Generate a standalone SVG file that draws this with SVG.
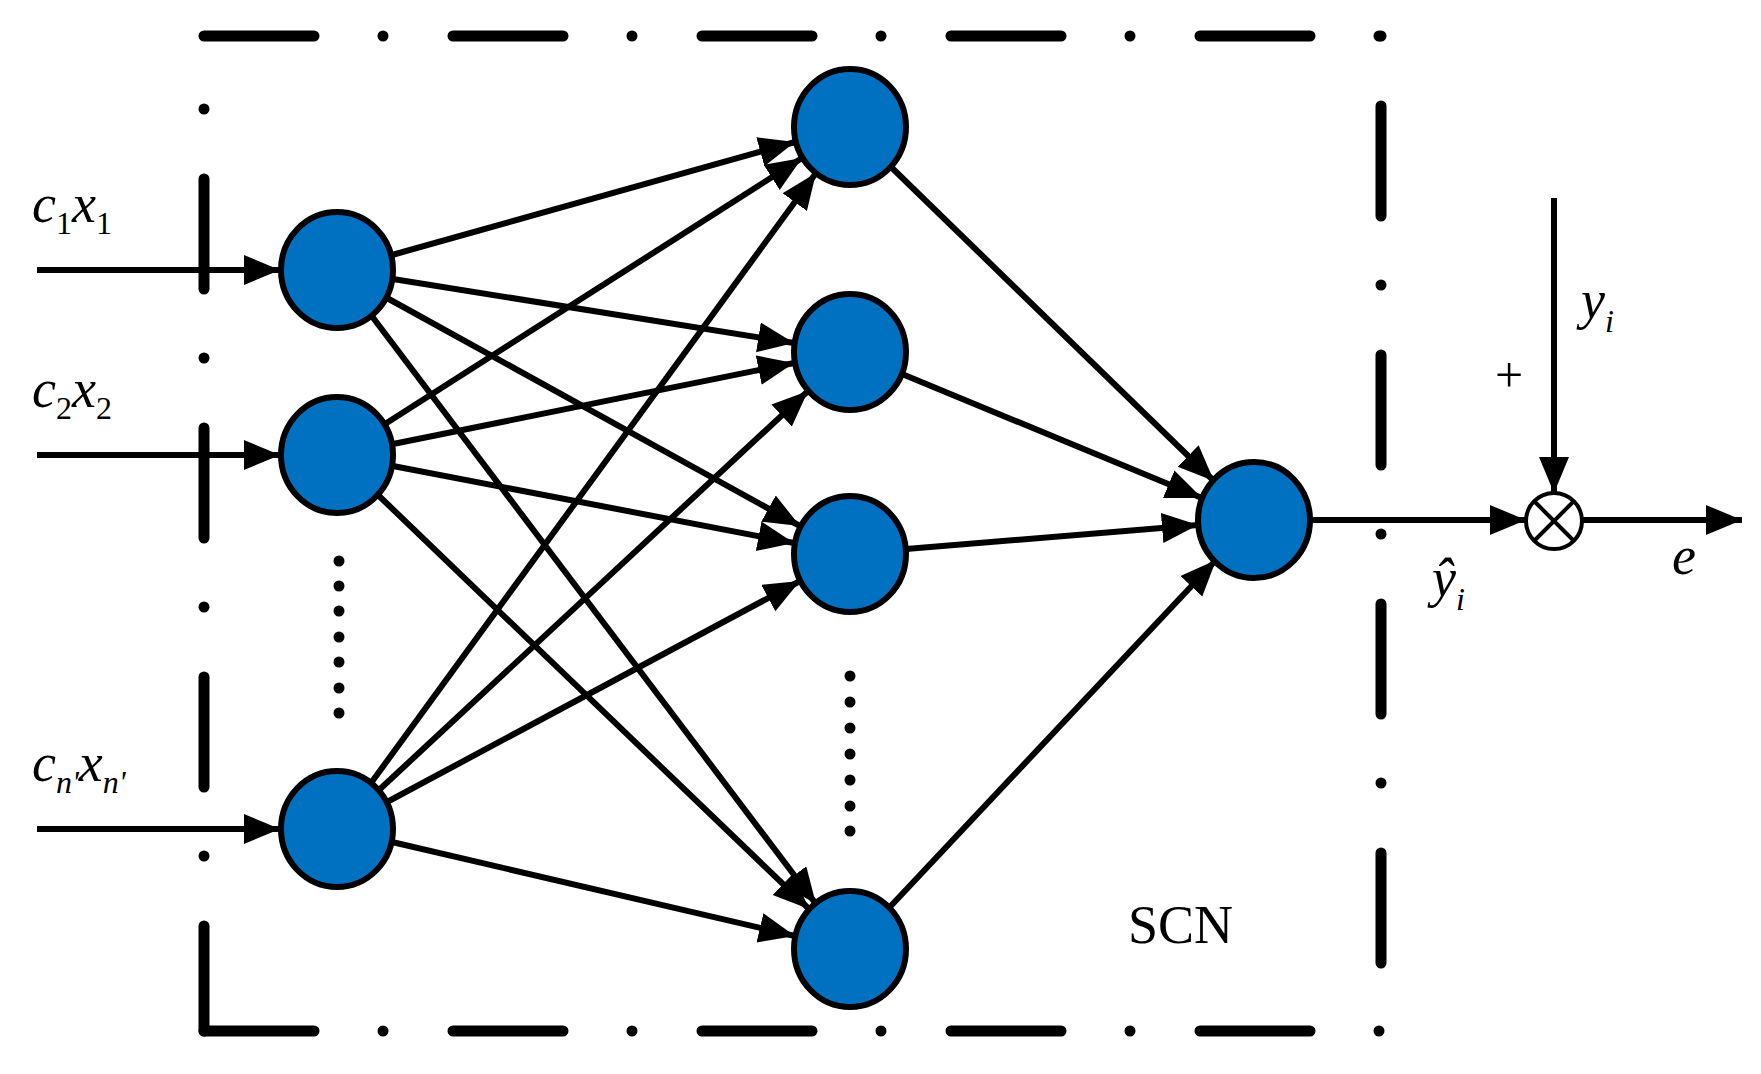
<svg xmlns="http://www.w3.org/2000/svg" width="1761" height="1074" viewBox="0 0 1761 1074">
<style>
.n{fill:#0070C0;stroke:#000;stroke-width:6}
.c line{stroke:#000;stroke-width:6;marker-end:url(#a)}
.b{stroke:#000;stroke-width:11;fill:none;stroke-linecap:round;stroke-dasharray:110 69 0 70}
.t{font-family:"Liberation Serif",serif;font-style:italic;font-size:54px}
.s{font-size:32px;font-style:normal}
.si{font-size:32px}
.d{fill:#000}
</style>
<defs><marker id="a" markerUnits="userSpaceOnUse" markerWidth="40" markerHeight="34" refX="36" refY="15" orient="auto"><path d="M0,0 L36,15 L0,30 z"/></marker></defs>
<g id="frame">
<path class="b" d="M204,36 H1381"/>
<path class="b" d="M204,1031 H1381"/>
<path class="b" d="M1381,36 V1031" style="stroke-dashoffset:179"/>
<path class="b" d="M204,109 V1031" style="stroke-dashoffset:179"/>
</g>
<g class="c" id="connectors">
<line x1="37" y1="270" x2="280" y2="270"/>
<line x1="37" y1="455" x2="280" y2="455"/>
<line x1="37" y1="829" x2="280" y2="829"/>
<line x1="392" y1="255" x2="795" y2="142"/>
<line x1="393" y1="279" x2="794" y2="343"/>
<line x1="387" y1="298" x2="800" y2="526"/>
<line x1="371" y1="315" x2="816" y2="904"/>
<line x1="385" y1="424" x2="802" y2="158"/>
<line x1="393" y1="444" x2="794" y2="363"/>
<line x1="393" y1="466" x2="794" y2="543"/>
<line x1="378" y1="495" x2="809" y2="909"/>
<line x1="371" y1="783" x2="816" y2="173"/>
<line x1="379" y1="790" x2="808" y2="391"/>
<line x1="387" y1="802" x2="800" y2="581"/>
<line x1="392" y1="842" x2="795" y2="936"/>
<line x1="890" y1="166" x2="1214" y2="481"/>
<line x1="902" y1="374" x2="1202" y2="498"/>
<line x1="906" y1="549" x2="1198" y2="525"/>
<line x1="888" y1="909" x2="1216" y2="560"/>
<line x1="1311" y1="520" x2="1526" y2="520"/>
<line x1="1582" y1="520" x2="1742" y2="520"/>
<line x1="1554" y1="198" x2="1554" y2="493"/>
</g>
<g id="in1"><ellipse class="n" cx="337" cy="270" rx="56" ry="58"/></g>
<g id="in2"><ellipse class="n" cx="337" cy="455" rx="56" ry="58"/></g>
<g id="in3"><ellipse class="n" cx="337" cy="829" rx="56" ry="58"/></g>
<g id="h1"><ellipse class="n" cx="850" cy="127" rx="56" ry="58"/></g>
<g id="h2"><ellipse class="n" cx="850" cy="352" rx="56" ry="58"/></g>
<g id="h3"><ellipse class="n" cx="850" cy="554" rx="56" ry="58"/></g>
<g id="h4"><ellipse class="n" cx="850" cy="949" rx="56" ry="58"/></g>
<g id="out"><ellipse class="n" cx="1254" cy="520" rx="56" ry="58"/></g>
<g id="sum"><circle cx="1554" cy="521" r="28" fill="#fff" stroke="#000" stroke-width="4"/><path d="M1534,501 L1574,541 M1574,501 L1534,541" stroke="#000" stroke-width="4"/></g>
<g id="dots" class="d">
<circle cx="339" cy="561" r="5.5"/><circle cx="339" cy="586" r="5.5"/><circle cx="339" cy="611" r="5.5"/><circle cx="339" cy="637" r="5.5"/><circle cx="339" cy="662" r="5.5"/><circle cx="339" cy="688" r="5.5"/><circle cx="339" cy="713" r="5.5"/>
<circle cx="850" cy="676" r="5.5"/><circle cx="850" cy="702" r="5.5"/><circle cx="850" cy="728" r="5.5"/><circle cx="850" cy="754" r="5.5"/><circle cx="850" cy="780" r="5.5"/><circle cx="850" cy="806" r="5.5"/><circle cx="850" cy="831" r="5.5"/>
</g>
<g id="labels">
<text class="t" x="32" y="222">c<tspan class="s" dy="12">1</tspan><tspan dy="-12">x</tspan><tspan class="s" dy="12">1</tspan></text>
<text class="t" x="32" y="407">c<tspan class="s" dy="12">2</tspan><tspan dy="-12">x</tspan><tspan class="s" dy="12">2</tspan></text>
<text class="t" x="32" y="781">c<tspan class="si" dy="12">n'</tspan><tspan dy="-12">x</tspan><tspan class="si" dy="12">n'</tspan></text>
<text x="1128" y="943" font-family="Liberation Serif,serif" font-size="54">SCN</text>
<text x="1495" y="392" font-family="Liberation Serif,serif" font-size="50">+</text>
<text class="t" x="1581" y="318">y<tspan class="si" dy="14">i</tspan></text>
<text class="t" x="1432" y="596">ŷ<tspan class="si" dy="14">i</tspan></text>
<text class="t" x="1672" y="574">e</text>
</g>
</svg>
